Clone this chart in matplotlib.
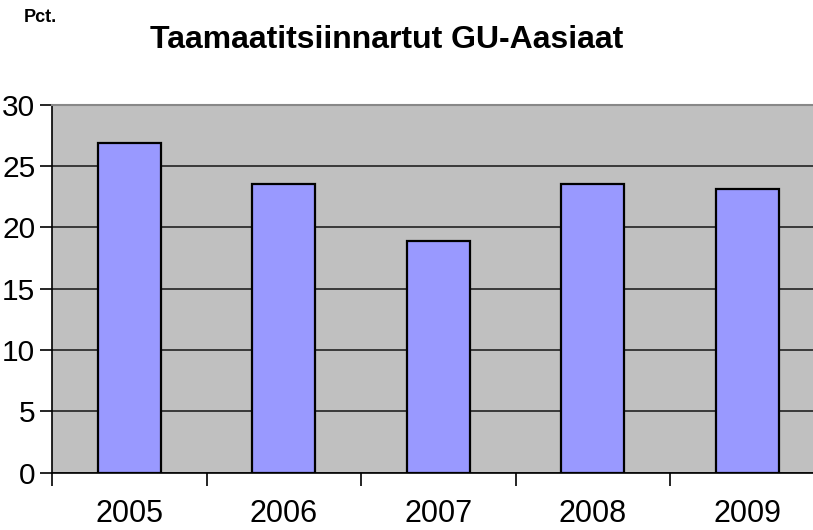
import numpy as np
import matplotlib
matplotlib.use("Agg")
import matplotlib.pyplot as plt

years = ["2005", "2006", "2007", "2008", "2009"]
values = [26.9, 23.5, 18.9, 23.5, 23.1]
yticks = [0, 5, 10, 15, 20, 25, 30]

plt.rcParams['font.family'] = ['Liberation Sans', 'DejaVu Sans']

fig = plt.figure(figsize=(8.13, 5.30), dpi=100)
# plot area runs past the right edge of the picture, as in the original
ax = fig.add_axes([52 / 813, (530 - 472.5) / 530, 772.5 / 813, 368 / 530])

x = np.arange(len(years))
ax.set_facecolor('#c0c0c0')
ax.bar(x, values, width=0.405, color='#9999ff', edgecolor='black', linewidth=1.6, zorder=3)

ax.set_xlim(-0.5, len(years) - 0.5)
ax.set_ylim(0, 30)
ax.set_yticks(yticks)
ax.set_yticklabels([str(v) for v in yticks], fontsize=21.5)
ax.yaxis.grid(True, color='#222222', linewidth=1.2, zorder=1)
ax.set_axisbelow(True)

ax.set_xticks(x)
ax.set_xticklabels(years, fontsize=22)
ax.set_xticks(np.arange(-0.5, len(years)), minor=True)
ax.tick_params(axis='x', which='major', length=0, pad=19)
ax.tick_params(axis='x', which='minor', length=9, width=1.2, direction='out')
ax.tick_params(axis='y', length=9, width=1.2, direction='out', pad=3)

ax.spines['right'].set_visible(False)
ax.spines['top'].set_color('#888888')
ax.spines['top'].set_linewidth(1.5)
ax.spines['left'].set_linewidth(1.2)
ax.spines['bottom'].set_linewidth(1.2)

fig.text(387 / 813, 1 - 40 / 530, "Taamaatitsiinnartut GU-Aasiaat", fontsize=23,
         fontweight='bold', ha='center', va='center')
fig.text(24 / 813, 1 - 18 / 530, "Pct.", fontsize=13, fontweight='bold', ha='left', va='center')

fig.savefig("out.png", dpi=100)
